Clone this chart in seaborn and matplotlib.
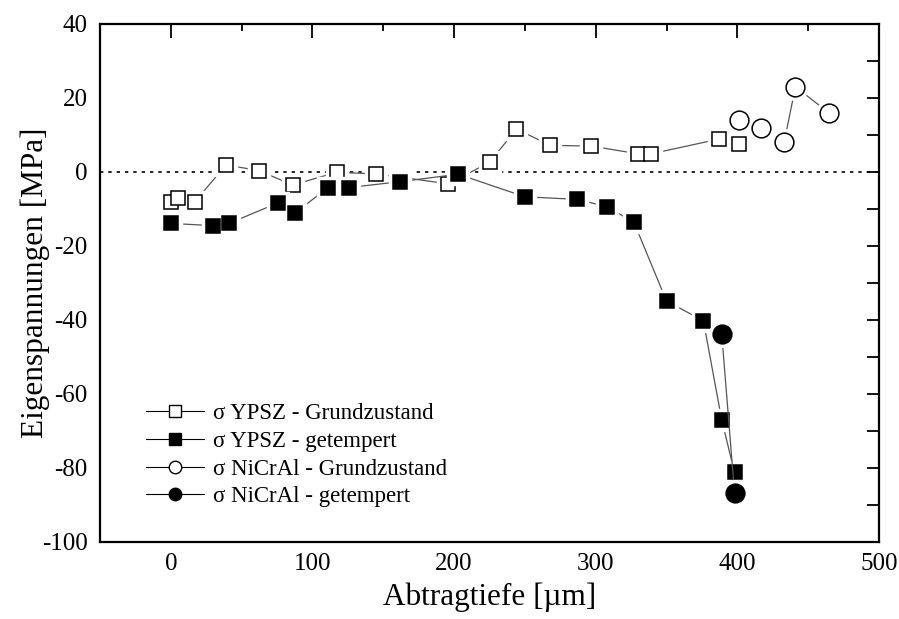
import numpy as np
import pandas as pd
import matplotlib
matplotlib.use("Agg")
import matplotlib.pyplot as plt
import seaborn as sns
from matplotlib.lines import Line2D
from matplotlib.ticker import MultipleLocator

# YPSZ - Grundzustand (open squares)
ypsz_grund_x = [0, 5, 17, 39, 62, 86, 117, 145, 196, 225, 244, 268, 297, 330, 339, 387, 401]
ypsz_grund_y = [-8.0, -6.9, -8.0, 1.9, 0.4, -3.5, -0.1, -0.5, -3.2, 2.6, 11.6, 7.2, 7.0, 4.9, 4.9, 8.9, 7.6]

# YPSZ - getempert (filled squares)
ypsz_temp_x = [0, 30, 41, 76, 88, 111, 126, 162, 203, 250, 287, 308, 327, 350, 376, 389, 398]
ypsz_temp_y = [-13.9, -14.5, -13.9, -8.3, -11.0, -4.2, -4.2, -2.6, -0.6, -6.7, -7.4, -9.4, -13.6, -34.9, -40.2, -67.1, -81.2]

# NiCrAl - Grundzustand (open circles)
nicral_grund_x = [401, 417, 433, 441, 465]
nicral_grund_y = [14.0, 11.9, 8.0, 23.0, 15.9]

# NiCrAl - getempert (filled circles)
nicral_temp_x = [389, 398]
nicral_temp_y = [-43.9, -86.8]

labels = ["σ YPSZ - Grundzustand", "σ YPSZ - getempert",
          "σ NiCrAl - Grundzustand", "σ NiCrAl - getempert"]

sns.set_theme(style="white")
plt.rcParams["font.family"] = ["Liberation Serif", "DejaVu Serif"]
plt.rcParams["axes.unicode_minus"] = False

fig = plt.figure(figsize=(8.99, 6.19), dpi=100)
ax = fig.add_axes([100 / 899, 1 - 542 / 619, 779 / 899, 518 / 619])

series = [
    (ypsz_grund_x, ypsz_grund_y, "s", 10.5, "white"),
    (ypsz_temp_x, ypsz_temp_y, "s", 10.5, "black"),
    (nicral_grund_x, nicral_grund_y, "o", 13.5, "white"),
    (nicral_temp_x, nicral_temp_y, "o", 13.5, "black"),
]

# zero line
ax.axhline(0, color="black", lw=1.2, ls=(0, (2, 3)), zorder=1)

for i, (xs, ys, m, ms, fc) in enumerate(series):
    df = pd.DataFrame({"x": xs, "y": ys})
    sns.lineplot(data=df, x="x", y="y", sort=False, estimator=None, ax=ax,
                 color="#555555", lw=0.9, zorder=2 + 3 * i)
    # white halo so lines stop short of the markers
    ax.plot(xs, ys, ls="none", marker=m, ms=ms + 5, mfc="white", mec="white",
            zorder=3 + 3 * i)
    ax.plot(xs, ys, ls="none", marker=m, ms=ms, mfc=fc, mec="black", mew=1.1,
            zorder=4 + 3 * i)

ax.set_xlim(-50, 500)
ax.set_ylim(-100, 40)
ax.xaxis.set_major_locator(MultipleLocator(100))
ax.xaxis.set_minor_locator(MultipleLocator(50))
ax.yaxis.set_major_locator(MultipleLocator(20))
ax.yaxis.set_minor_locator(MultipleLocator(10))
ax.tick_params(which="both", direction="in", top=True, right=True,
               labelsize=18, color="black", labelcolor="black", width=1.3)
ax.tick_params(axis="x", which="major", length=10, pad=8)
ax.tick_params(axis="x", which="minor", length=5)
ax.tick_params(axis="y", which="both", length=9, pad=9)
for s in ax.spines.values():
    s.set_linewidth(1.6)
    s.set_color("black")

ax.set_xlabel("Abtragtiefe [µm]", fontsize=22.5, color="black")
ax.set_ylabel("Eigenspannungen [MPa]", fontsize=22.5, color="black")
ax.xaxis.set_label_coords(0.5, -0.078)
ax.yaxis.set_label_coords(-0.064, 0.5)

handles = []
for (xs, ys, m, ms, fc), lab in zip(series, labels):
    handles.append(Line2D([], [], color="black", lw=0.8, marker=m,
                          ms=8 if m == "s" else 9, mfc=fc, mec="black", mew=1.0))
leg = ax.legend(handles, labels, loc="lower left", bbox_to_anchor=(0.033, 0.027),
                frameon=False, fontsize=16.5, handlelength=2.5, handletextpad=0.4,
                labelspacing=0.29)
for t in leg.get_texts():
    t.set_color("black")

fig.savefig("out.png", dpi=100, facecolor="white")
